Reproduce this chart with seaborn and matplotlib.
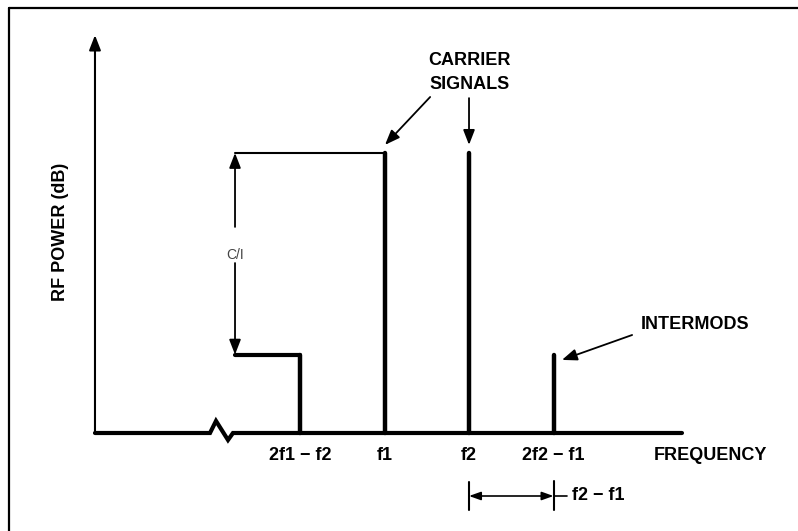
import pandas as pd
import numpy as np
import seaborn as sns
import matplotlib.pyplot as plt

# spectrum: two carriers and the two third-order intermods
signal_names = ["2f1 − f2", "f1", "f2", "2f2 − f1"]
signal_freqs = [1.0, 2.0, 3.0, 4.0]
signal_levels = [28, 100, 100, 28]
carrier_level = 100
intermod_level = 28

sns.set_style("white")
plt.rcParams['font.family'] = ['Liberation Sans', 'DejaVu Sans']
plt.rcParams['text.color'] = 'black'

# long table, one vertical stick per signal
rows = []
for name, f, lv in zip(signal_names, signal_freqs, signal_levels):
    rows.append({"signal": name, "freq": f, "level": 0})
    rows.append({"signal": name, "freq": f, "level": lv})
df = pd.DataFrame(rows)

fig = plt.figure(figsize=(7.98, 5.31), dpi=100)
ax = fig.add_axes([0, 0, 1, 1])
ax.set_xlim(-2.550, 6.893)
ax.set_ylim(-35.0, 154.64)
ax.axis('off')

sns.lineplot(data=df, x="freq", y="level", units="signal", estimator=None,
             sort=False, color="black", lw=3.2, ax=ax, legend=False)

# outer frame (cut at right/bottom)
ax.plot([-2.444, -2.444], [-40, 151.8], color="black", lw=1.6, clip_on=False)
ax.plot([-2.444, 7.0], [151.8, 151.8], color="black", lw=1.6, clip_on=False)

# y axis with arrow
ax.annotate("", xy=(-1.426, 142.1), xytext=(-1.426, 0),
            arrowprops=dict(arrowstyle="-|>,head_length=0.9,head_width=0.35",
                            color="black", lw=1.5, shrinkA=0, shrinkB=0))
ax.text(-1.83, 71.8, "RF POWER (dB)", rotation=90, ha="center", va="center",
        fontsize=13, fontweight="bold")

# baseline with break mark
ax_x = -1.426
bx = [ax_x, -0.065, 0.006, 0.148, 0.207, 5.52]
by = [0, 0, 4.3, -2.5, 0, 0]
ax.plot(bx, by, color="black", lw=3.0, solid_joinstyle="miter")

# reference levels and C/I arrows
ref_x = 0.231
ax.plot([ref_x, signal_freqs[1]], [carrier_level, carrier_level], color="black", lw=1.5)
ax.plot([ref_x, signal_freqs[0]], [intermod_level, intermod_level], color="black", lw=3.0)
arrow_kw = dict(arrowstyle="-|>,head_length=0.9,head_width=0.35", color="black",
                lw=1.3, shrinkA=0, shrinkB=0)
ax.annotate("", xy=(ref_x, carrier_level), xytext=(ref_x, 73.6), arrowprops=arrow_kw)
ax.annotate("", xy=(ref_x, intermod_level), xytext=(ref_x, 60.7), arrowprops=arrow_kw)
ax.text(ref_x, 63.6, "C/I", ha="center", va="center", fontsize=10, color="#444444")

# callouts
ax.text(3.01, 132.9, "CARRIER", ha="center", va="center", fontsize=13, fontweight="bold")
ax.text(3.01, 124.6, "SIGNALS", ha="center", va="center", fontsize=13, fontweight="bold")
ax.annotate("", xy=(2.006, 102.9), xytext=(2.54, 120.0), arrowprops=arrow_kw)
ax.annotate("", xy=(3.0, 102.9), xytext=(3.0, 119.6), arrowprops=arrow_kw)

ax.text(5.675, 38.6, "INTERMODS", ha="center", va="center", fontsize=13, fontweight="bold")
ax.annotate("", xy=(4.10, 26.1), xytext=(4.93, 35.0), arrowprops=arrow_kw)

# frequency labels
for name, f in zip(signal_names, signal_freqs):
    ax.text(f, -7.9, name, ha="center", va="center", fontsize=13, fontweight="bold")
ax.text(5.86, -7.9, "FREQUENCY", ha="center", va="center", fontsize=13, fontweight="bold")

# spacing dimension f2 - f1
dim_y = -22.5
f_a, f_b = signal_freqs[2], signal_freqs[3]
ax.plot([f_a, f_a], [-17.5, -27.5], color="black", lw=1.5)
ax.plot([f_b, f_b], [-17.0, -27.5], color="black", lw=1.5)
ax.annotate("", xy=(f_a, dim_y), xytext=(f_b, dim_y),
            arrowprops=dict(arrowstyle="<|-|>,head_length=0.7,head_width=0.25",
                            color="black", lw=1.2, shrinkA=0, shrinkB=0))
ax.plot([f_b, 4.16], [dim_y, dim_y], color="black", lw=1.2)
ax.text(4.53, dim_y, "f2 − f1", ha="center", va="center", fontsize=13, fontweight="bold")

fig.savefig("out.png", dpi=100)
